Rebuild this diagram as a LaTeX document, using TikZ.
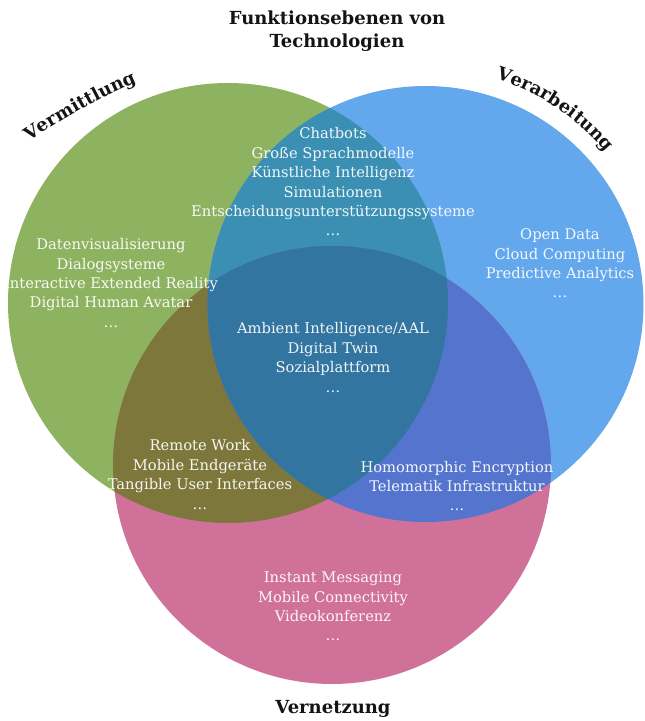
\documentclass[tikz,border=0pt]{standalone}
\usepackage{fontspec}
\setmainfont{DejaVu Serif}
\usetikzlibrary{decorations.text}

% fills of the single circles and of their overlaps
\definecolor{cG}{RGB}{142,179,96}
\definecolor{cB}{RGB}{99,167,236}
\definecolor{cP}{RGB}{208,113,154}
\definecolor{cGB}{RGB}{58,143,178}
\definecolor{cGP}{RGB}{126,119,60}
\definecolor{cBP}{RGB}{84,116,205}
\definecolor{cGBP}{RGB}{50,117,160}
\definecolor{inkDark}{RGB}{20,20,20}

\newcommand{\headfont}{\bfseries\fontsize{18}{23}\selectfont}
\def\radG{220pt}
\def\radB{218pt}
\def\radP{219pt}

\begin{document}
\begin{tikzpicture}[x=1pt,y=1pt,
  item/.style={align=center, text=white, text opacity=0.93,
    font=\fontsize{14.7}{19.4}\selectfont, inner sep=0pt},
  head/.style={align=center, text=inkDark, font=\headfont, inner sep=0pt},
  arclabel/.style={decorate, decoration={text along path, text align=center,
    text color=inkDark, text={|\headfont|#1}}}]
\useasboundingbox (0,0) rectangle (645,721);
\fill[white] (0,0) rectangle (645,721);

% circle centres
\coordinate (cg) at (228,418);
\coordinate (cb) at (425.5,417);
\coordinate (cp) at (332,256);
% centre of the gentle arc carrying the left name
\coordinate (cv) at (372.4,87.2);

% single circles
\fill[cG] (cg) circle[radius=\radG];
\fill[cB] (cb) circle[radius=\radB];
\fill[cP] (cp) circle[radius=\radP];

% pairwise overlaps
\begin{scope}
  \clip (cg) circle[radius=\radG];
  \fill[cGB] (cb) circle[radius=\radB];
\end{scope}
\begin{scope}
  \clip (cg) circle[radius=\radG];
  \fill[cGP] (cp) circle[radius=\radP];
\end{scope}
\begin{scope}
  \clip (cb) circle[radius=\radB];
  \fill[cBP] (cp) circle[radius=\radP];
\end{scope}

% common centre
\begin{scope}
  \clip (cg) circle[radius=\radG];
  \clip (cb) circle[radius=\radB];
  \fill[cGBP] (cp) circle[radius=\radP];
\end{scope}

% title
\node[head] (title) at (337,690) {Funktionsebenen von\\Technologien};

% circle names
\path[arclabel=Vermittlung] (cv) ++(129:600pt) arc[start angle=129, end angle=109, radius=600pt];
\path[arclabel=Verarbeitung] (cb) ++(89.4:236pt) arc[start angle=89.4, end angle=23.4, radius=236pt];
\node[head] (vernetzung) at (333,12) {Vernetzung};

% region contents
\node[item] (gb) at (333,539) {Chatbots\\Große Sprachmodelle\\Künstliche Intelligenz\\Simulationen\\Entscheidungsunterstützungssysteme\\…};
\node[item] (g) at (111,438) {Datenvisualisierung\\Dialogsysteme\\Interactive Extended Reality\\Digital Human Avatar\\…};
\node[item] (b) at (560,457.5) {Open Data\\Cloud Computing\\Predictive Analytics\\…};
\node[item] (gbp) at (333,363.5) {Ambient Intelligence/AAL\\Digital Twin\\Sozialplattform\\…};
\node[item] (gp) at (200,246.5) {Remote Work\\Mobile Endgeräte\\Tangible User Interfaces\\…};
\node[item] (bp) at (457,235) {Homomorphic Encryption\\Telematik Infrastruktur\\…};
\node[item] (p) at (333,114.5) {Instant Messaging\\Mobile Connectivity\\Videokonferenz\\…};
\end{tikzpicture}
\end{document}
